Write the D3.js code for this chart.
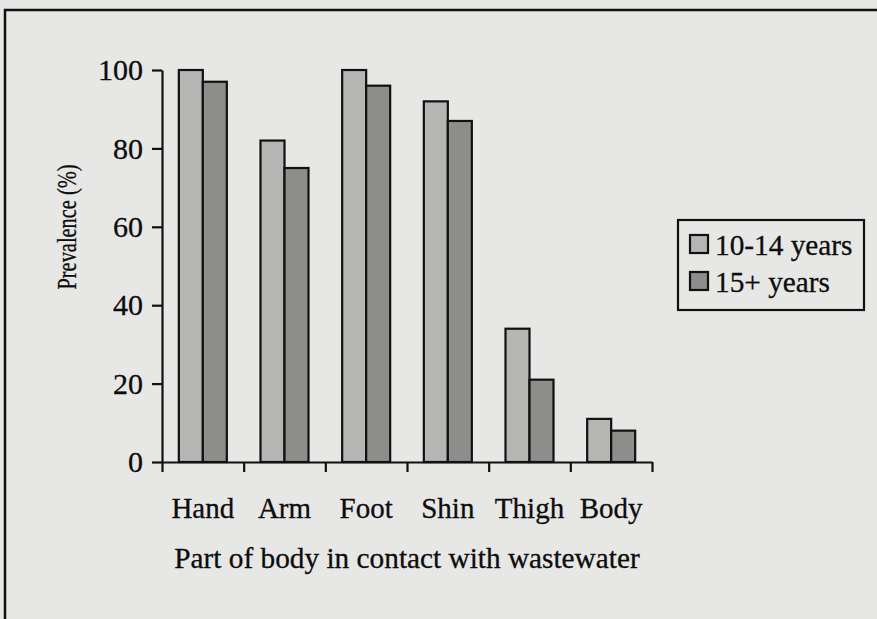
<!DOCTYPE html>
<head>
<meta charset="utf-8">
<title>Wastewater contact by body part</title>
<style>
  body { margin: 0; background: #e7e7e5; }
  svg { display: block; }
  text { font-family: "Liberation Serif", "Times New Roman", serif; fill: #0d0d0d; stroke: #0d0d0d; stroke-width: 0.3px; }
  .axis path, .axis line { stroke: #111; stroke-width: 2.2px; }
  .axis text { font-size: 30px; }
</style>
</head>
<body>
<div id="chartDiv"></div>
<script src="https://d3js.org/d3.v7.min.js"></script>
<script>

  var width = 877;
  var height = 619;

  // data
  var categories = ["Hand", "Arm", "Foot", "Shin", "Thigh", "Body"];
  var series = ["10-14 years", "15+ years"];
  var young = [100, 82, 100, 92, 34, 11];
  var older = [97, 75, 96, 87, 21, 8];
  var yTicks = [0, 20, 40, 60, 80, 100];
  var colors = ["#b5b5b3", "#8d8d8b"];

  var values = [young, older];

  var svg = d3.select("#chartDiv")
    .append("svg")
      .attr("width", width)
      .attr("height", height);

  // scanned page frame
  svg.append("rect")
      .attr("x", 5)
      .attr("y", 10)
      .attr("width", width + 20)
      .attr("height", height + 20)
      .style("fill", "none")
      .style("stroke", "#111")
      .style("stroke-width", 2.5);

  var plot = {left: 162, right: 652, top: 70, bottom: 462};

  var x = d3.scaleBand()
      .domain(categories)
      .range([plot.left, plot.right]);

  var groupW = 48;
  var x1 = d3.scaleBand()
      .domain(series)
      .range([(x.bandwidth() - groupW) / 2, (x.bandwidth() + groupW) / 2]);

  var y = d3.scaleLinear()
      .domain([0, 100])
      .range([plot.bottom, plot.top]);

  // bars
  var groups = svg.selectAll("g.cat")
      .data(categories)
      .enter().append("g")
      .attr("class", "cat")
      .attr("transform", function(d) { return "translate(" + x(d) + ",0)"; });

  groups.selectAll("rect")
      .data(function(d, i) { return series.map(function(s, j) { return {s: s, j: j, v: values[j][i]}; }); })
      .enter().append("rect")
      .attr("x", function(d) { return x1(d.s); })
      .attr("y", function(d) { return y(d.v); })
      .attr("width", x1.bandwidth())
      .attr("height", function(d) { return y(0) - y(d.v); })
      .style("fill", function(d) { return colors[d.j]; })
      .style("stroke", "#111")
      .style("stroke-width", 2.2);

  // y axis
  svg.append("g")
      .attr("class", "axis")
      .attr("transform", "translate(" + plot.left + ",0)")
      .call(d3.axisLeft(y).tickValues(yTicks).tickSize(10).tickSizeOuter(0).tickPadding(9));

  // x axis: ticks on category boundaries
  var xb = d3.scaleLinear().domain([0, categories.length]).range(x.range());
  svg.append("g")
      .attr("class", "axis")
      .attr("transform", "translate(0," + plot.bottom + ")")
      .call(d3.axisBottom(xb).ticks(categories.length).tickFormat("").tickSize(10).tickSizeOuter(0));

  svg.append("g")
      .attr("class", "axis")
      .attr("transform", "translate(0," + plot.bottom + ")")
      .call(d3.axisBottom(x).tickSize(0).tickPadding(35))
      .call(function(g) {
        g.select(".domain").remove();
        g.selectAll("text").style("font-size", "29px");
      });

  // axis titles
  svg.append("text")
      .attr("transform", "translate(76,227) rotate(-90)")
      .attr("text-anchor", "middle")
      .attr("textLength", 125)
      .attr("lengthAdjust", "spacingAndGlyphs")
      .style("font-size", "27px")
      .text("Prevalence (%)");

  svg.append("text")
      .attr("x", 407)
      .attr("y", 568)
      .attr("text-anchor", "middle")
      .style("font-size", "29.3px")
      .text("Part of body in contact with wastewater");

  // legend
  var legend = svg.append("g").attr("transform", "translate(678,220)");
  legend.append("rect")
      .attr("width", 186)
      .attr("height", 90)
      .style("fill", "none")
      .style("stroke", "#111")
      .style("stroke-width", 2.2);

  var item = legend.selectAll("g.item")
      .data(series)
      .enter().append("g")
      .attr("class", "item")
      .attr("transform", function(d, i) { return "translate(12," + (15 + i * 37) + ")"; });

  item.append("rect")
      .attr("width", 18)
      .attr("height", 18)
      .style("fill", function(d, i) { return colors[i]; })
      .style("stroke", "#111")
      .style("stroke-width", 2.2);

  item.append("text")
      .attr("x", 25)
      .attr("y", 20)
      .style("font-size", "29.3px")
      .text(function(d) { return d; });

</script>
</body>
